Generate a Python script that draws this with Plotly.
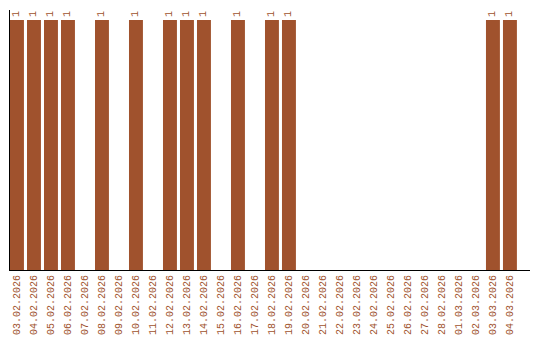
import plotly.graph_objects as go

dates = ["03.02.2026", "04.02.2026", "05.02.2026", "06.02.2026", "07.02.2026",
         "08.02.2026", "09.02.2026", "10.02.2026", "11.02.2026", "12.02.2026",
         "13.02.2026", "14.02.2026", "15.02.2026", "16.02.2026", "17.02.2026",
         "18.02.2026", "19.02.2026", "20.02.2026", "21.02.2026", "22.02.2026",
         "23.02.2026", "24.02.2026", "25.02.2026", "26.02.2026", "27.02.2026",
         "28.02.2026", "01.03.2026", "02.03.2026", "03.03.2026", "04.03.2026"]
values = [1, 1, 1, 1, 0, 1, 0, 1, 0, 1, 1, 1, 0, 1, 0, 1, 1, 0, 0, 0,
          0, 0, 0, 0, 0, 0, 0, 0, 1, 1]
labels = [str(v) if v else "" for v in values]

color = "#A0522D"
mono = "Liberation Mono"
fig = go.Figure(go.Bar(
    x=dates, y=values, marker_color=color, marker_line_width=0,
    text=labels, textposition="outside", textangle=-90,
    textfont=dict(family=mono, size=10, color=color),
    cliponaxis=False,
))
fig.update_layout(
    width=540, height=340, margin=dict(l=10, r=10, t=10, b=70),
    paper_bgcolor="white", plot_bgcolor="white", showlegend=False,
    bargap=0.18,
    font=dict(family=mono, size=10, color=color),
)
fig.update_xaxes(type="category", tickangle=-90, showline=True, linecolor="black",
                 linewidth=1, showgrid=False, ticks="", ticklen=0, automargin=False,
                 range=[-0.41, 30.18],
                 tickfont=dict(family=mono, size=10, color=color))
fig.update_yaxes(range=[0, 1.04], showline=True, linecolor="black", linewidth=1,
                 showgrid=False, showticklabels=False, ticks="", zeroline=False,
                 automargin=False)
fig.write_html("out.html")
